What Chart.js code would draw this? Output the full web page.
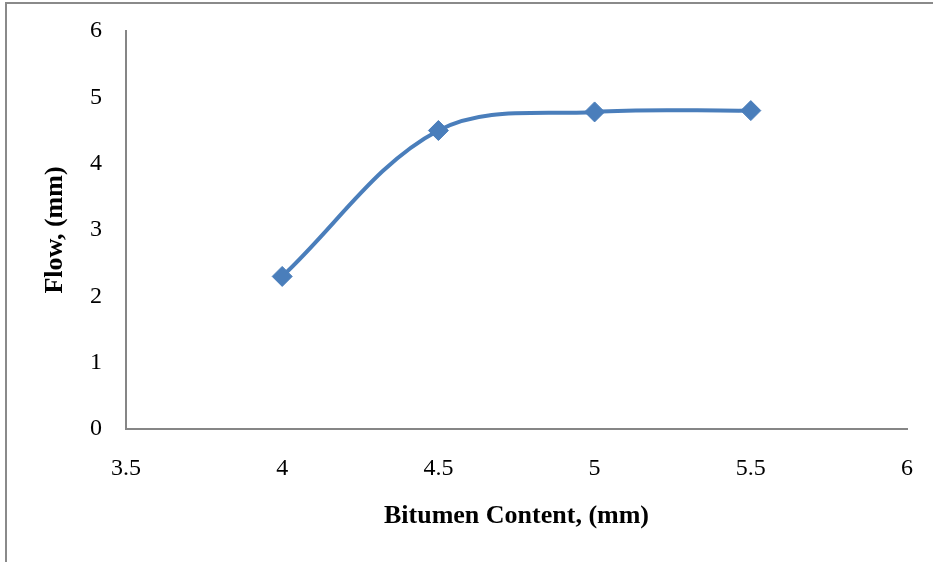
<!DOCTYPE html>
<html>
<head>
<meta charset="utf-8">
<script src="https://cdn.jsdelivr.net/npm/chart.js@4"></script>
<style>
  html, body { margin: 0; padding: 0; background: #fff; }
  #wrap { width: 933px; height: 562px; }
</style>
</head>
<body>
<div id="wrap"><canvas id="flowChart" width="933" height="562"></canvas></div>
<script>
const bitumen = [4, 4.5, 5, 5.5];
const flow    = [2.3, 4.5, 4.78, 4.8];
const xTicks  = { min: 3.5, max: 6, step: 0.5 };
const yTicks  = { min: 0, max: 6, step: 1 };

const serif = 'Liberation Serif, Times New Roman, serif';

// grey frame round the chart (only top and left edges show in the picture)
const frame = {
  id: 'frame',
  beforeDraw(chart) {
    const c = chart.ctx;
    c.save();
    c.fillStyle = '#fff';
    c.fillRect(0, 0, chart.width, chart.height);
    c.fillStyle = '#8a8a8a';
    c.fillRect(5, 2, 2, chart.height - 2);
    c.fillRect(5, 2, chart.width - 5, 2);
    c.restore();
  }
};

document.addEventListener('DOMContentLoaded', function () {
  const ctx = document.getElementById('flowChart').getContext('2d');
  new Chart(ctx, {
    type: 'scatter',
    data: {
      datasets: [{
        label: 'Flow',
        data: bitumen.map((x, i) => ({ x: x, y: flow[i] })),
        showLine: true,
        borderColor: '#4a7ebb',
        backgroundColor: '#4a7ebb',
        borderWidth: 4,
        tension: 0.35,
        pointStyle: 'rectRot',
        pointRadius: 10,
        pointHoverRadius: 10,
        pointBorderWidth: 1,
        pointBorderColor: '#4a7ebb',
        pointBackgroundColor: '#4a7ebb'
      }]
    },
    options: {
      responsive: false,
      animation: false,
      layout: { padding: { top: 31, right: 26, left: 0, bottom: 0 } },
      plugins: {
        legend: { display: false },
        tooltip: { enabled: false }
      },
      scales: {
        x: {
          type: 'linear',
          min: xTicks.min,
          max: xTicks.max,
          afterFit: s => {
            s.height = 133;
            s.paddingLeft = 0;
            s.paddingRight = 0;
          },
          grid: { display: false, drawTicks: false },
          border: { display: true, color: '#868686', width: 2 },
          ticks: {
            stepSize: xTicks.step,
            padding: 25,
            color: '#000',
            font: { family: serif, size: 24 },
            callback: v => String(v)
          },
          title: {
            display: true,
            text: 'Bitumen Content, (mm)',
            color: '#000',
            padding: { top: 0, bottom: 30 },
            font: { family: serif, size: 26, weight: 'bold' }
          }
        },
        y: {
          min: yTicks.min,
          max: yTicks.max,
          afterFit: s => {
            s.width = 126;
            s.paddingTop = 0;
            s.paddingBottom = 0;
          },
          grid: { display: false, drawTicks: false },
          border: { display: true, color: '#868686', width: 2 },
          ticks: {
            stepSize: yTicks.step,
            padding: 24,
            color: '#000',
            font: { family: serif, size: 24 },
            callback: v => String(v)
          },
          title: {
            display: true,
            text: 'Flow, (mm)',
            color: '#000',
            padding: { top: 40, bottom: 0 },
            font: { family: serif, size: 26, weight: 'bold' }
          }
        }
      }
    },
    plugins: [frame]
  });
});
</script>
</body>
</html>
